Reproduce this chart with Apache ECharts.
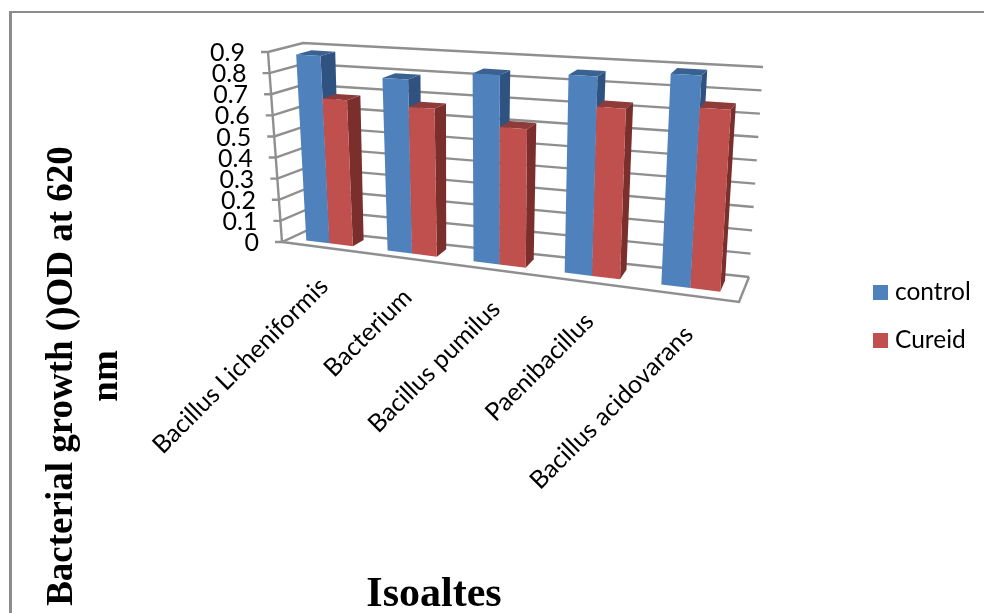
<!DOCTYPE html>
<html>
<head>
<meta charset="utf-8">
<title>Bacterial growth</title>
<style>html,body{margin:0;padding:0;background:#fff}#main{width:984px;height:613px}</style>
<script src="https://cdn.jsdelivr.net/npm/echarts@6/dist/echarts.min.js"></script>
</head>
<body>
<div id="main"></div>
<script>
// data
var categories = ['Bacillus Licheniformis', 'Bacterium', 'Bacillus pumilus', 'Paenibacillus', 'Bacillus acidovarans'];
var control = [0.88, 0.795, 0.84, 0.86, 0.89];
var cureid = [0.68, 0.67, 0.61, 0.73, 0.755];
var yTicks = [0, 0.1, 0.2, 0.3, 0.4, 0.5, 0.6, 0.7, 0.8, 0.9];
var yLabels = ['0', '0.1', '0.2', '0.3', '0.4', '0.5', '0.6', '0.7', '0.8', '0.9'];

// the eight corners of the 3D box on screen: f/b front/back, l/r left/right, b/t bottom/top
var box = {
    flb: [282, 242], frb: [739, 302], flt: [268, 52], frt: [753, 80],
    blb: [308, 230], brb: [749, 277], blt: [303, 43], brt: [763, 67]
};
var persp = 1.157;   // right side of the box is nearer
var barFront = 0.3, barBack = 0.75, barWidth = 0.058;
var gridColor = '#8f8f8f';

function mix(a, b, t) {
    return [a[0] + (b[0] - a[0]) * t, a[1] + (b[1] - a[1]) * t];
}
// u along the categories, v up the value axis, w into the depth (all 0..1)
function project(u, v, w) {
    var f = u / (u + persp * (1 - u));
    var fb = mix(box.flb, box.frb, f), ft = mix(box.flt, box.frt, f);
    var bb = mix(box.blb, box.brb, f), bt = mix(box.blt, box.brt, f);
    return mix(mix(fb, ft, v), mix(bb, bt, v), w);
}

function poly(points, color) {
    return { type: 'polygon', shape: { points: points }, style: { fill: color } };
}

// one bar out of scales: the hidden grid gives u and v, project() makes it 3D
function barRender(offset, front, side, top) {
    return function (params, api) {
        var cs = params.coordSys;
        var p = api.coord([api.value(0), api.value(1)]);
        var c = (p[0] - cs.x) / cs.width + offset * barWidth;
        var v = (cs.y + cs.height - p[1]) / cs.height;
        var l = c - barWidth / 2, r = c + barWidth / 2;
        return {
            type: 'group',
            children: [
                poly([project(r, 0, barFront), project(r, v, barFront), project(r, v, barBack), project(r, 0, barBack)], side),
                poly([project(l, v, barFront), project(r, v, barFront), project(r, v, barBack), project(l, v, barBack)], top),
                poly([project(l, 0, barFront), project(r, 0, barFront), project(r, v, barFront), project(l, v, barFront)], front)
            ]
        };
    };
}

function line(points) {
    return { type: 'polyline', shape: { points: points }, style: { fill: 'none', stroke: gridColor, lineWidth: 2.4 } };
}

// walls, gridlines and value labels
function wallRender(params, api) {
    var cs = params.coordSys;
    var p = api.coord([0, api.value(0)]);
    var v = (cs.y + cs.height - p[1]) / cs.height;
    var a = project(0, v, 0), b = project(0, v, 1), c = project(1, v, 1);
    var children = [
        line([[a[0] - 7, a[1]], a, b, c]),
        {
            type: 'text',
            style: {
                x: a[0] - 23, y: a[1] + 1, text: yLabels[params.dataIndex],
                fill: '#000', font: '25px Lato', align: 'right', verticalAlign: 'middle'
            }
        }
    ];
    if (params.dataIndex === 0) {
        children.push(line([project(0, 0, 0), project(0, 1, 0)]));
        children.push(line([project(0, 0, 0), project(1, 0, 0), project(1, 0, 1)]));
    }
    return { type: 'group', children: children };
}

function categoryRender(params, api) {
    var cs = params.coordSys;
    var p = api.coord([api.value(0), 0]);
    var a = project((p[0] - cs.x) / cs.width, 0, 0);
    return {
        type: 'text',
        x: a[0] + 2, y: a[1] + 35, rotation: Math.PI / 4,
        style: {
            x: 0, y: 0, text: categories[params.dataIndex],
            fill: '#000', font: '25px Lato', align: 'right', verticalAlign: 'middle'
        }
    };
}

var myChart = echarts.init(document.getElementById('main'));

var option = {
    animation: false,
    backgroundColor: '#fff',
    grid: { left: 282, top: 52, width: 460, height: 190 },
    xAxis: { type: 'category', data: categories, show: false },
    yAxis: { type: 'value', min: 0, max: 0.9, interval: 0.1, show: false },
    legend: {
        orient: 'vertical', left: 868, top: 275, itemWidth: 15, itemHeight: 15, itemGap: 23,
        icon: 'rect', data: ['control', 'Cureid'],
        textStyle: { fontFamily: 'Lato', fontSize: 24.5, color: '#000', padding: [0, 0, 0, 2] }
    },
    graphic: [
        { type: 'rect', shape: { x: 9, y: 11, width: 975, height: 2 }, style: { fill: '#8c8c8c' } },
        { type: 'rect', shape: { x: 9, y: 11, width: 3, height: 602 }, style: { fill: '#8c8c8c' } },
        {
            type: 'text', x: 434, y: 595,
            style: { text: 'Isoaltes', fill: '#000', font: 'bold 42px "Liberation Serif"', align: 'center', verticalAlign: 'middle' }
        },
        {
            type: 'text', x: 62, y: 376, rotation: Math.PI / 2,
            style: { text: 'Bacterial growth ()OD at 620', fill: '#000', font: 'bold 37px "Liberation Serif"', align: 'center', verticalAlign: 'middle' }
        },
        {
            type: 'text', x: 107, y: 376, rotation: Math.PI / 2,
            style: { text: 'nm', fill: '#000', font: 'bold 37px "Liberation Serif"', align: 'center', verticalAlign: 'middle' }
        }
    ],
    series: [
        {
            type: 'custom', name: 'walls', silent: true, z: 1, clip: false,
            renderItem: wallRender, encode: { y: 0 },
            data: yTicks.map(function (t) { return [t]; })
        },
        {
            type: 'custom', name: 'labels', silent: true, z: 1, clip: false,
            renderItem: categoryRender, encode: { x: 0 },
            data: categories.map(function (c, i) { return [i]; })
        },
        {
            type: 'custom', name: 'control', z: 2, clip: false,
            itemStyle: { color: '#4F81BD' },
            renderItem: barRender(-0.5, '#4F81BD', '#2F5280', '#3A6291'),
            encode: { x: 0, y: 1 },
            data: control.map(function (v, i) { return [i, v]; })
        },
        {
            type: 'custom', name: 'Cureid', z: 3, clip: false,
            itemStyle: { color: '#C0504D' },
            renderItem: barRender(0.5, '#C0504D', '#7B2F2D', '#8F3B39'),
            encode: { x: 0, y: 1 },
            data: cureid.map(function (v, i) { return [i, v]; })
        }
    ]
};

myChart.setOption(option);
</script>
</body>
</html>
